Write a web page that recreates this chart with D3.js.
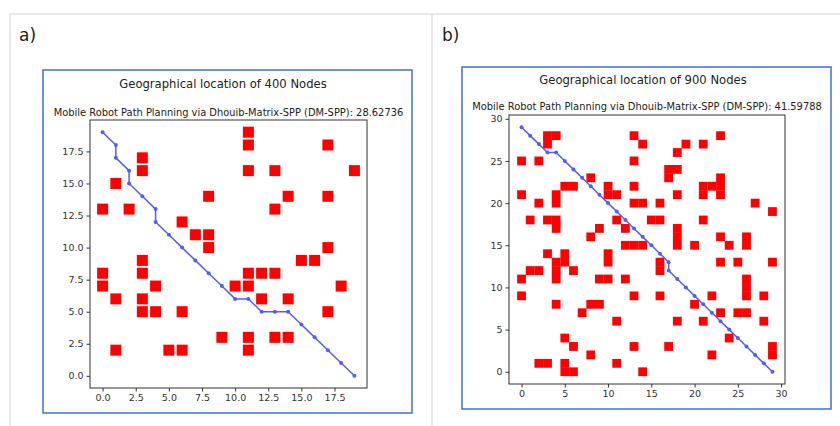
<!DOCTYPE html>
<html>
<head>
<meta charset="utf-8">
<script src="https://cdn.jsdelivr.net/npm/d3@7"></script>
<style>
  body { margin: 0; background: #fff; }
  text { font-family: "DejaVu Sans", sans-serif; }
</style>
</head>
<body>
<div id="chart"></div>
<script>
// panel a) 20x20 grid
const titleA = "Geographical location of 400 Nodes";
const subtitleA = "Mobile Robot Path Planning via Dhouib-Matrix-SPP (DM-SPP): 28.62736";
const ticksA = [0, 2.5, 5, 7.5, 10, 12.5, 15, 17.5];
const obstaclesA = [
  [0,13],[0,8],[0,7],[1,15],[1,6],[1,2],[2,13],
  [3,17],[3,16],[3,9],[3,8],[3,6],[3,5],[4,7],[4,5],
  [5,2],[6,12],[6,5],[6,2],[7,11],[8,14],[8,11],[8,10],[9,3],[10,7],
  [11,19],[11,18],[11,16],[11,8],[11,7],[11,3],[11,2],[12,8],[12,6],
  [13,16],[13,13],[13,8],[13,3],[14,14],[14,6],[14,3],[15,9],[16,9],
  [17,18],[17,14],[17,10],[17,5],[18,7],[19,16]
];
const pathA = [
  [0,19],[1,18],[1,17],[2,16],[2,15],[3,14],[4,13],[4,12],[5,11],[6,10],
  [7,9],[8,8],[9,7],[10,6],[11,6],[12,5],[13,5],[14,5],[15,4],[16,3],
  [17,2],[18,1],[19,0]
];

// panel b) 30x30 grid
const titleB = "Geographical location of 900 Nodes";
const subtitleB = "Mobile Robot Path Planning via Dhouib-Matrix-SPP (DM-SPP): 41.59788";
const ticksB = [0, 5, 10, 15, 20, 25, 30];
const obstaclesB = [
  [3,28],[4,28],[3,27],[13,28],[14,27],[23,28],[19,27],[21,27],[18,26],
  [0,25],[2,25],[13,25],[17,24],[18,24],[17,23],
  [8,23],[23,23],[23,22],[23,21],[21,22],[21,21],[22,22],
  [5,22],[6,22],[10,22],[10,21],[11,21],[13,22],
  [4,21],[4,20],[0,21],[2,20],[13,20],[14,20],[16,20],[18,21],[27,20],[29,19],
  [1,18],[3,18],[4,18],[4,17],[11,18],[12,17],[15,18],[16,18],[21,18],
  [8,16],[9,17],[18,17],[18,16],[18,15],[20,15],[23,16],[24,15],[26,16],[26,15],
  [12,15],[13,15],[14,15],
  [3,14],[5,14],[4,13],[5,13],[4,12],[4,11],[6,12],
  [1,12],[2,12],[0,11],[0,9],
  [10,14],[10,13],[9,11],[10,11],[12,11],
  [16,13],[16,12],[23,13],[25,13],[29,13],[26,11],[26,10],[26,9],
  [13,9],[16,9],[22,9],[28,9],
  [4,8],[8,8],[9,8],[7,7],[20,8],[23,7],[25,7],[26,7],
  [11,6],[18,6],[21,6],[28,6],
  [5,4],[24,4],[6,3],[13,3],[17,3],[29,3],[29,2],[8,2],[22,2],
  [2,1],[3,1],[5,1],[11,1],[5,0],[6,0],[14,0]
];
const pathB = [
  [0,29],[1,28],[2,27],[3,26],[4,26],[5,25],[6,24],[7,23],[8,22],[9,21],
  [10,20],[11,19],[12,18],[13,17],[14,16],[15,15],[16,14],[17,13],[17,12],
  [18,11],[19,10],[20,9],[21,8],[22,7],[23,6],[24,5],[25,4],[26,3],[27,2],
  [28,1],[29,0]
];

const W = 840, H = 426;
const svg = d3.select("#chart").append("svg")
  .attr("width", W)
  .attr("height", H);

// outer grey frame of the figure
svg.append("path")
  .attr("d", "M10,426 L10,14 L840,14 M432,14 L432,426")
  .attr("fill", "none")
  .attr("stroke", "#e2e2e2")
  .attr("stroke-width", 1.5);

svg.append("text").attr("x", 19).attr("y", 41).attr("font-size", 17).attr("fill", "#222").text("a)");
svg.append("text").attr("x", 442).attr("y", 41).attr("font-size", 17).attr("fill", "#222").text("b)");

function drawPanel(p) {
  const g = svg.append("g");

  g.append("rect")
    .attr("x", p.frame[0]).attr("y", p.frame[1])
    .attr("width", p.frame[2]).attr("height", p.frame[3])
    .attr("fill", "#fff")
    .attr("stroke", "#4a78d8")
    .attr("stroke-width", 1.6);

  g.append("text")
    .attr("x", p.titleX).attr("y", p.titleY)
    .attr("text-anchor", "middle")
    .attr("font-size", 11.6)
    .attr("fill", "#222")
    .text(p.title);

  const x = d3.scaleLinear().domain(p.domain).range([p.box[0], p.box[1]]);
  const y = d3.scaleLinear().domain(p.domain).range([p.box[3], p.box[2]]);

  g.append("text")
    .attr("x", (p.box[0] + p.box[1]) / 2).attr("y", p.subY)
    .attr("text-anchor", "middle")
    .attr("font-size", 9.9)
    .attr("fill", "#222")
    .text(p.subtitle);

  // obstacles
  g.selectAll("rect.obs")
    .data(p.obstacles)
    .enter()
    .append("rect")
    .attr("class", "obs")
    .attr("x", d => x(d[0]) - p.ms / 2)
    .attr("y", d => y(d[1]) - p.ms / 2)
    .attr("width", p.ms)
    .attr("height", p.ms)
    .attr("fill", "#ff0000");

  // path
  const line = d3.line().x(d => x(d[0])).y(d => y(d[1]));
  g.append("path")
    .datum(p.path)
    .attr("d", line)
    .attr("fill", "none")
    .attr("stroke", "#5060f4")
    .attr("stroke-width", 1.5);

  g.selectAll("circle.node")
    .data(p.path)
    .enter()
    .append("circle")
    .attr("class", "node")
    .attr("cx", d => x(d[0]))
    .attr("cy", d => y(d[1]))
    .attr("r", 2)
    .attr("fill", "#5060f4");

  const fmt = p.fmt;
  const xAxis = d3.axisBottom(x).tickValues(p.ticks).tickFormat(fmt).tickSize(3.5).tickSizeOuter(0);
  const yAxis = d3.axisLeft(y).tickValues(p.ticks).tickFormat(fmt).tickSize(3.5).tickSizeOuter(0);

  const gx = g.append("g")
    .attr("transform", "translate(0," + p.box[3] + ")")
    .call(xAxis);
  const gy = g.append("g")
    .attr("transform", "translate(" + p.box[0] + ",0)")
    .call(yAxis);

  [gx, gy].forEach(a => {
    a.select(".domain").remove();
    a.selectAll("line").attr("stroke", "#333");
    a.selectAll("text")
      .attr("fill", "#333")
      .style("font-family", "DejaVu Sans, sans-serif")
      .style("font-size", p.tickFont + "px");
  });

  g.append("rect")
    .attr("x", p.box[0]).attr("y", p.box[2])
    .attr("width", p.box[1] - p.box[0])
    .attr("height", p.box[3] - p.box[2])
    .attr("fill", "none")
    .attr("stroke", "#333")
    .attr("stroke-width", 1);
}

drawPanel({
  frame: [43, 70, 369, 343],
  title: titleA, titleX: 223, titleY: 88,
  subtitle: subtitleA, subY: 116,
  box: [90, 367, 120, 388],
  domain: [-0.95, 19.95],
  ticks: ticksA, fmt: d3.format(".1f"),
  obstacles: obstaclesA, path: pathA,
  ms: 11, tickFont: 9.5
});

drawPanel({
  frame: [462, 67, 369, 342],
  title: titleB, titleX: 643, titleY: 84,
  subtitle: subtitleB, subY: 110,
  box: [509, 785, 115, 384],
  domain: [-1.45, 30.45],
  ticks: ticksB, fmt: d3.format("d"),
  obstacles: obstaclesB, path: pathB,
  ms: 8.8, tickFont: 9.5
});
</script>
</body>
</html>
